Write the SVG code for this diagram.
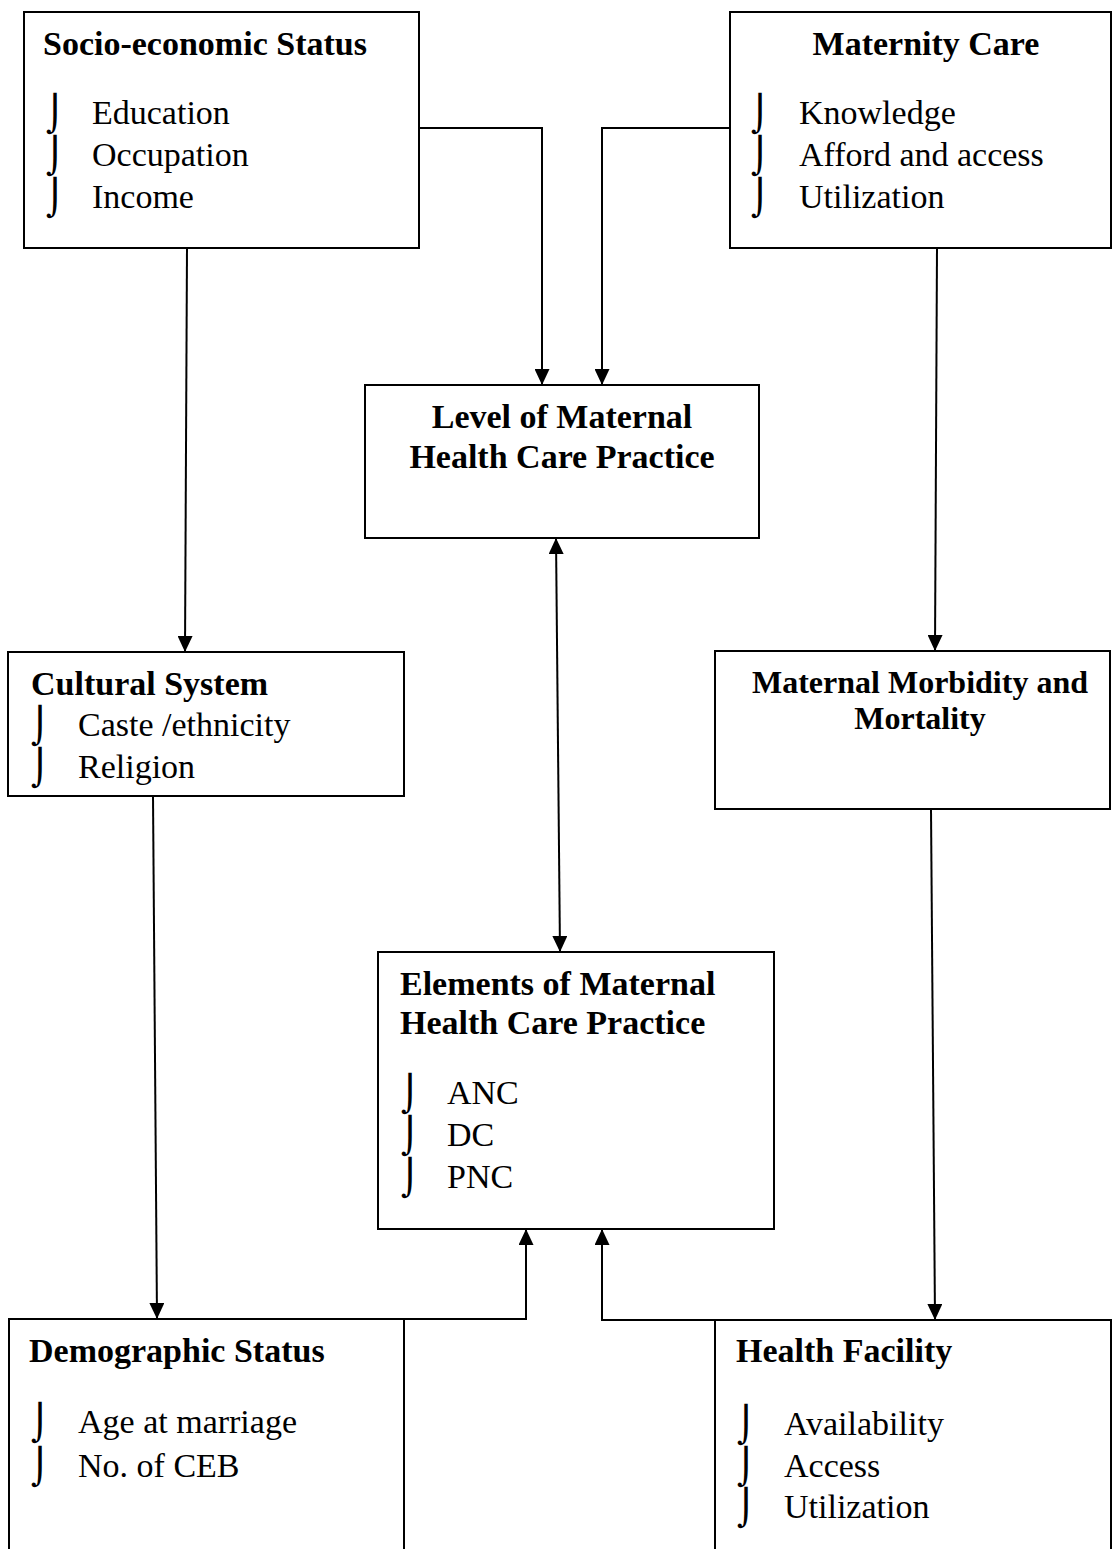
<svg xmlns="http://www.w3.org/2000/svg" width="1113" height="1549" viewBox="0 0 1113 1549">
<style>
.box{fill:#fff;stroke:#000;stroke-width:2}
.t{font-family:"Liberation Serif","Times New Roman",serif;font-size:34px;fill:#000}
.h{font-weight:bold}
.m{text-anchor:middle}
.bl{font-family:"DejaVu Sans",sans-serif;font-size:35px;fill:#000}
.c{fill:none;stroke:#000;stroke-width:2}
</style>
<defs>
<marker id="ah" markerUnits="userSpaceOnUse" markerWidth="16" markerHeight="15" refX="16" refY="7.5" orient="auto-start-reverse">
<path d="M0,0 L16,7.5 L0,15 z" fill="#000"/>
</marker>
</defs>
<rect width="1113" height="1549" fill="#fff"/>
<g id="socio">
<rect class="box" x="24" y="12" width="395" height="236"/>
<text class="t h" x="43" y="55">Socio-economic Status</text>
<text class="bl" x="46" y="126">⌡</text><text class="t" x="92" y="124">Education</text>
<text class="bl" x="46" y="168">⌡</text><text class="t" x="92" y="166">Occupation</text>
<text class="bl" x="46" y="210">⌡</text><text class="t" x="92" y="208">Income</text>
</g>
<g id="maternity">
<rect class="box" x="730" y="12" width="381" height="236"/>
<text class="t h m" x="926" y="55">Maternity Care</text>
<text class="bl" x="751" y="126">⌡</text><text class="t" x="799" y="124">Knowledge</text>
<text class="bl" x="751" y="168">⌡</text><text class="t" x="799" y="166">Afford and access</text>
<text class="bl" x="751" y="210">⌡</text><text class="t" x="799" y="208">Utilization</text>
</g>
<g id="level">
<rect class="box" x="365" y="385" width="394" height="153"/>
<text class="t h m" x="562" y="428">Level of Maternal</text>
<text class="t h m" x="562" y="468">Health Care Practice</text>
</g>
<g id="cultural">
<rect class="box" x="8" y="652" width="396" height="144"/>
<text class="t h" x="31" y="695">Cultural System</text>
<text class="bl" x="31" y="738">⌡</text><text class="t" x="78" y="736">Caste /ethnicity</text>
<text class="bl" x="31" y="780">⌡</text><text class="t" x="78" y="778">Religion</text>
</g>
<g id="morbidity">
<rect class="box" x="715" y="651" width="395" height="158"/>
<text class="t h m" x="920" y="693" style="font-size:32px">Maternal Morbidity and</text>
<text class="t h m" x="920" y="729" style="font-size:32px">Mortality</text>
</g>
<g id="elements">
<rect class="box" x="378" y="952" width="396" height="277"/>
<text class="t h" x="400" y="995">Elements of Maternal</text>
<text class="t h" x="400" y="1034">Health Care Practice</text>
<text class="bl" x="401" y="1106">⌡</text><text class="t" x="447" y="1104">ANC</text>
<text class="bl" x="401" y="1148">⌡</text><text class="t" x="447" y="1146">DC</text>
<text class="bl" x="401" y="1190">⌡</text><text class="t" x="447" y="1188">PNC</text>
</g>
<g id="demographic">
<rect class="box" x="9" y="1319" width="395" height="250"/>
<text class="t h" x="29" y="1362">Demographic Status</text>
<text class="bl" x="31" y="1435">⌡</text><text class="t" x="78" y="1433">Age at marriage</text>
<text class="bl" x="31" y="1479">⌡</text><text class="t" x="78" y="1477">No. of CEB</text>
</g>
<g id="health">
<rect class="box" x="715" y="1320" width="396" height="250"/>
<text class="t h" x="736" y="1362">Health Facility</text>
<text class="bl" x="737" y="1437">⌡</text><text class="t" x="784" y="1435">Availability</text>
<text class="bl" x="737" y="1479">⌡</text><text class="t" x="784" y="1477">Access</text>
<text class="bl" x="737" y="1520">⌡</text><text class="t" x="784" y="1518">Utilization</text>
</g>
<g id="connectors">
<path class="c" d="M419,128 H542 V385" marker-end="url(#ah)"/>
<path class="c" d="M730,128 H602 V385" marker-end="url(#ah)"/>
<path class="c" d="M187,248 L185,652" marker-end="url(#ah)"/>
<path class="c" d="M937,248 L935,651" marker-end="url(#ah)"/>
<path class="c" d="M556,538 L560,952" marker-start="url(#ah)" marker-end="url(#ah)"/>
<path class="c" d="M153,796 L157,1319" marker-end="url(#ah)"/>
<path class="c" d="M931,809 L935,1320" marker-end="url(#ah)"/>
<path class="c" d="M404,1319 H526 V1229" marker-end="url(#ah)"/>
<path class="c" d="M715,1320 H602 V1229" marker-end="url(#ah)"/>
</g>
</svg>
